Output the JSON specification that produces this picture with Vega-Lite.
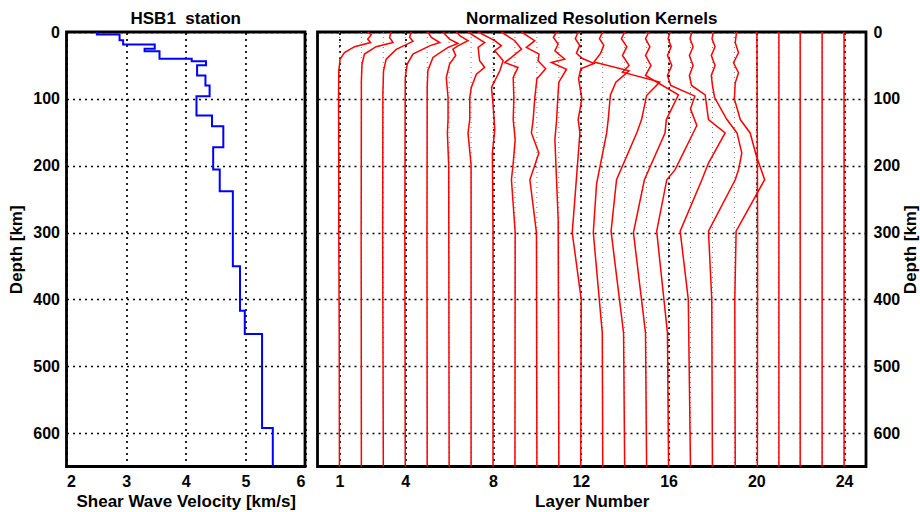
{
  "$schema": "https://vega.github.io/schema/vega-lite/v6.json",
  "padding": {"left": 5.5, "top": 8, "right": 0, "bottom": 0},
  "background": "white",
  "spacing": 9,
  "config": {
    "font": "Liberation Sans",
    "view": {"stroke": "black", "strokeWidth": 2.8},
    "title": {"font": "Liberation Sans", "fontSize": 17, "fontWeight": "bold", "color": "black", "offset": -3.5},
    "axis": {
      "labelFont": "Liberation Sans", "labelFontSize": 16, "labelFontWeight": "bold", "labelColor": "black",
      "titleFont": "Liberation Sans", "titleFontSize": 17, "titleFontWeight": "bold", "titleColor": "black",
      "domain": false, "ticks": false, "labelPadding": 7,
      "grid": true, "gridColor": "black", "gridDash": [2, 4], "gridWidth": 1.7, "gridOpacity": 1
    }
  },
  "datasets": {
    "vel": [
      {"v": 2.51, "depth": 0}, {"v": 2.89, "depth": 3.7}, {"v": 2.95, "depth": 12.3}, {"v": 3.48, "depth": 18.7},
      {"v": 3.31, "depth": 25.1}, {"v": 3.56, "depth": 28.7}, {"v": 4.10, "depth": 40.1}, {"v": 4.34, "depth": 43.7},
      {"v": 4.19, "depth": 49.7}, {"v": 4.33, "depth": 65.1}, {"v": 4.40, "depth": 80.1}, {"v": 4.18, "depth": 96.1},
      {"v": 4.44, "depth": 125}, {"v": 4.63, "depth": 141}, {"v": 4.46, "depth": 172.5}, {"v": 4.57, "depth": 205.8},
      {"v": 4.79, "depth": 238.3}, {"v": 4.91, "depth": 350.6}, {"v": 4.99, "depth": 417}, {"v": 5.28, "depth": 451.8},
      {"v": 5.46, "depth": 592.5}, {"v": 5.46, "depth": 650}
    ],
    "layers": [
      {"L": 1}, {"L": 2}, {"L": 3}, {"L": 4}, {"L": 5}, {"L": 6}, {"L": 7}, {"L": 8}, {"L": 9}, {"L": 10}, {"L": 11}, {"L": 12},
      {"L": 13}, {"L": 14}, {"L": 15}, {"L": 16}, {"L": 17}, {"L": 18}, {"L": 19}, {"L": 20}, {"L": 21}, {"L": 22}, {"L": 23}, {"L": 24}
    ],
    "kern": [
      {"k": 1, "d": 0, "L": 2.29}, {"k": 1, "d": 4, "L": 2.45}, {"k": 1, "d": 10.7, "L": 2.29}, {"k": 1, "d": 15.7, "L": 2.42}, {"k": 1, "d": 22, "L": 1.69}, {"k": 1, "d": 30.7, "L": 1.23}, {"k": 1, "d": 40.7, "L": 1.03}, {"k": 1, "d": 58, "L": 0.97}, {"k": 1, "d": 100, "L": 0.96}, {"k": 1, "d": 200, "L": 0.97}, {"k": 1, "d": 300, "L": 0.97}, {"k": 1, "d": 450, "L": 0.99}, {"k": 1, "d": 650, "L": 1.0},
      {"k": 2, "d": 0, "L": 3.36}, {"k": 2, "d": 8, "L": 3.28}, {"k": 2, "d": 15.7, "L": 3.44}, {"k": 2, "d": 22, "L": 2.67}, {"k": 2, "d": 33, "L": 2.14}, {"k": 2, "d": 48, "L": 2.03}, {"k": 2, "d": 73, "L": 2.0}, {"k": 2, "d": 300, "L": 1.99}, {"k": 2, "d": 650, "L": 2.0},
      {"k": 3, "d": 0, "L": 4.27}, {"k": 3, "d": 8, "L": 4.2}, {"k": 3, "d": 14, "L": 4.35}, {"k": 3, "d": 26, "L": 3.59}, {"k": 3, "d": 40.7, "L": 3.13}, {"k": 3, "d": 58, "L": 3.01}, {"k": 3, "d": 93, "L": 2.98}, {"k": 3, "d": 300, "L": 2.97}, {"k": 3, "d": 650, "L": 3.0},
      {"k": 4, "d": 0, "L": 5.03}, {"k": 4, "d": 8, "L": 5.19}, {"k": 4, "d": 15.7, "L": 5.57}, {"k": 4, "d": 20.7, "L": 5.11}, {"k": 4, "d": 33, "L": 4.35}, {"k": 4, "d": 48, "L": 4.09}, {"k": 4, "d": 68, "L": 4.0}, {"k": 4, "d": 300, "L": 3.98}, {"k": 4, "d": 650, "L": 4.0},
      {"k": 5, "d": 0, "L": 5.72}, {"k": 5, "d": 10.7, "L": 6.02}, {"k": 5, "d": 17.2, "L": 6.4}, {"k": 5, "d": 23, "L": 5.95}, {"k": 5, "d": 38, "L": 5.26}, {"k": 5, "d": 58, "L": 5.03}, {"k": 5, "d": 83, "L": 5.0}, {"k": 5, "d": 300, "L": 4.99}, {"k": 5, "d": 650, "L": 5.0},
      {"k": 6, "d": 0, "L": 6.33}, {"k": 6, "d": 6, "L": 6.5}, {"k": 6, "d": 13, "L": 6.86}, {"k": 6, "d": 20.7, "L": 6.4}, {"k": 6, "d": 25.7, "L": 6.17}, {"k": 6, "d": 35, "L": 6.3}, {"k": 6, "d": 48, "L": 6.02}, {"k": 6, "d": 68, "L": 5.87}, {"k": 6, "d": 98, "L": 5.95}, {"k": 6, "d": 131, "L": 5.95}, {"k": 6, "d": 151, "L": 5.92}, {"k": 6, "d": 200, "L": 5.98}, {"k": 6, "d": 650, "L": 6.0},
      {"k": 7, "d": 0, "L": 6.86}, {"k": 7, "d": 8, "L": 7.24}, {"k": 7, "d": 15.7, "L": 7.62}, {"k": 7, "d": 23, "L": 7.32}, {"k": 7, "d": 43, "L": 7.39}, {"k": 7, "d": 53, "L": 7.62}, {"k": 7, "d": 63, "L": 7.24}, {"k": 7, "d": 83, "L": 7.01}, {"k": 7, "d": 98, "L": 6.94}, {"k": 7, "d": 131, "L": 6.94}, {"k": 7, "d": 151, "L": 6.86}, {"k": 7, "d": 199, "L": 7.0}, {"k": 7, "d": 650, "L": 7.0},
      {"k": 8, "d": 0, "L": 7.32}, {"k": 8, "d": 13, "L": 8.08}, {"k": 8, "d": 20.7, "L": 8.38}, {"k": 8, "d": 28, "L": 8.08}, {"k": 8, "d": 43, "L": 8.46}, {"k": 8, "d": 58, "L": 8.31}, {"k": 8, "d": 83, "L": 7.93}, {"k": 8, "d": 108, "L": 8.0}, {"k": 8, "d": 146, "L": 8.08}, {"k": 8, "d": 181, "L": 7.97}, {"k": 8, "d": 300, "L": 8.0}, {"k": 8, "d": 650, "L": 8.0},
      {"k": 9, "d": 0, "L": 8.38}, {"k": 9, "d": 13, "L": 8.99}, {"k": 9, "d": 25.7, "L": 9.3}, {"k": 9, "d": 38, "L": 8.84}, {"k": 9, "d": 45.7, "L": 8.53}, {"k": 9, "d": 53, "L": 9.14}, {"k": 9, "d": 68, "L": 8.92}, {"k": 9, "d": 100, "L": 8.95}, {"k": 9, "d": 131, "L": 8.92}, {"k": 9, "d": 161, "L": 9.01}, {"k": 9, "d": 196, "L": 8.92}, {"k": 9, "d": 221, "L": 8.84}, {"k": 9, "d": 300, "L": 9.01}, {"k": 9, "d": 650, "L": 9.0},
      {"k": 10, "d": 0, "L": 9.3}, {"k": 10, "d": 13, "L": 9.9}, {"k": 10, "d": 23, "L": 9.52}, {"k": 10, "d": 33, "L": 10.1}, {"k": 10, "d": 43, "L": 10.05}, {"k": 10, "d": 55, "L": 10.4}, {"k": 10, "d": 70, "L": 10.0}, {"k": 10, "d": 100, "L": 9.9}, {"k": 10, "d": 131, "L": 9.83}, {"k": 10, "d": 151, "L": 9.75}, {"k": 10, "d": 181, "L": 10.09}, {"k": 10, "d": 221, "L": 9.68}, {"k": 10, "d": 300, "L": 9.98}, {"k": 10, "d": 650, "L": 10.0},
      {"k": 11, "d": 0, "L": 10.9}, {"k": 11, "d": 8, "L": 10.75}, {"k": 11, "d": 18, "L": 10.97}, {"k": 11, "d": 28, "L": 10.82}, {"k": 11, "d": 40.7, "L": 11.27}, {"k": 11, "d": 45.7, "L": 10.66}, {"k": 11, "d": 55.7, "L": 11.35}, {"k": 11, "d": 75, "L": 11.0}, {"k": 11, "d": 100, "L": 10.95}, {"k": 11, "d": 131, "L": 10.9}, {"k": 11, "d": 161, "L": 10.82}, {"k": 11, "d": 281, "L": 10.97}, {"k": 11, "d": 650, "L": 11.0},
      {"k": 12, "d": 0, "L": 11.88}, {"k": 12, "d": 10, "L": 11.75}, {"k": 12, "d": 20, "L": 11.95}, {"k": 12, "d": 32, "L": 11.8}, {"k": 12, "d": 40, "L": 12.1}, {"k": 12, "d": 47, "L": 12.6}, {"k": 12, "d": 55, "L": 12.0}, {"k": 12, "d": 70, "L": 11.9}, {"k": 12, "d": 100, "L": 12.05}, {"k": 12, "d": 131, "L": 11.88}, {"k": 12, "d": 151, "L": 11.96}, {"k": 12, "d": 250, "L": 11.73}, {"k": 12, "d": 300, "L": 11.61}, {"k": 12, "d": 400, "L": 12.02}, {"k": 12, "d": 650, "L": 12.0},
      {"k": 13, "d": 0, "L": 13.0}, {"k": 13, "d": 10, "L": 12.85}, {"k": 13, "d": 20, "L": 13.05}, {"k": 13, "d": 32, "L": 12.9}, {"k": 13, "d": 45, "L": 12.6}, {"k": 13, "d": 58, "L": 14.2}, {"k": 13, "d": 75, "L": 13.6}, {"k": 13, "d": 94, "L": 13.35}, {"k": 13, "d": 131, "L": 13.25}, {"k": 13, "d": 151, "L": 13.18}, {"k": 13, "d": 227, "L": 12.72}, {"k": 13, "d": 300, "L": 12.57}, {"k": 13, "d": 450, "L": 12.98}, {"k": 13, "d": 650, "L": 13.0},
      {"k": 14, "d": 0, "L": 14.0}, {"k": 14, "d": 10, "L": 13.85}, {"k": 14, "d": 22, "L": 14.1}, {"k": 14, "d": 35, "L": 13.9}, {"k": 14, "d": 50, "L": 14.2}, {"k": 14, "d": 60, "L": 13.9}, {"k": 14, "d": 75, "L": 15.6}, {"k": 14, "d": 95, "L": 15.0}, {"k": 14, "d": 131, "L": 14.77}, {"k": 14, "d": 151, "L": 14.55}, {"k": 14, "d": 221, "L": 13.63}, {"k": 14, "d": 298, "L": 13.38}, {"k": 14, "d": 450, "L": 13.95}, {"k": 14, "d": 650, "L": 14.0},
      {"k": 15, "d": 0, "L": 15.1}, {"k": 15, "d": 10, "L": 14.95}, {"k": 15, "d": 22, "L": 15.15}, {"k": 15, "d": 35, "L": 14.95}, {"k": 15, "d": 50, "L": 15.2}, {"k": 15, "d": 65, "L": 14.95}, {"k": 15, "d": 94, "L": 16.45}, {"k": 15, "d": 131, "L": 15.9}, {"k": 15, "d": 151, "L": 15.84}, {"k": 15, "d": 221, "L": 14.9}, {"k": 15, "d": 300, "L": 14.4}, {"k": 15, "d": 450, "L": 14.95}, {"k": 15, "d": 650, "L": 15.0},
      {"k": 16, "d": 0, "L": 16.07}, {"k": 16, "d": 10, "L": 15.98}, {"k": 16, "d": 22, "L": 16.12}, {"k": 16, "d": 35, "L": 15.95}, {"k": 16, "d": 50, "L": 16.15}, {"k": 16, "d": 65, "L": 15.95}, {"k": 16, "d": 80, "L": 16.1}, {"k": 16, "d": 96, "L": 17.2}, {"k": 16, "d": 115, "L": 17.0}, {"k": 16, "d": 140, "L": 17.29}, {"k": 16, "d": 206, "L": 16.3}, {"k": 16, "d": 221, "L": 15.92}, {"k": 16, "d": 298, "L": 15.46}, {"k": 16, "d": 450, "L": 15.95}, {"k": 16, "d": 650, "L": 16.0},
      {"k": 17, "d": 0, "L": 17.06}, {"k": 17, "d": 10, "L": 16.98}, {"k": 17, "d": 22, "L": 17.12}, {"k": 17, "d": 35, "L": 16.95}, {"k": 17, "d": 50, "L": 17.12}, {"k": 17, "d": 65, "L": 16.95}, {"k": 17, "d": 80, "L": 17.05}, {"k": 17, "d": 94, "L": 17.67}, {"k": 17, "d": 131, "L": 17.82}, {"k": 17, "d": 151, "L": 18.58}, {"k": 17, "d": 196, "L": 17.82}, {"k": 17, "d": 221, "L": 17.52}, {"k": 17, "d": 298, "L": 16.53}, {"k": 17, "d": 400, "L": 16.9}, {"k": 17, "d": 650, "L": 17.0},
      {"k": 18, "d": 0, "L": 18.05}, {"k": 18, "d": 10, "L": 17.98}, {"k": 18, "d": 22, "L": 18.12}, {"k": 18, "d": 35, "L": 17.95}, {"k": 18, "d": 50, "L": 18.12}, {"k": 18, "d": 65, "L": 17.95}, {"k": 18, "d": 80, "L": 18.0}, {"k": 18, "d": 98, "L": 18.1}, {"k": 18, "d": 131, "L": 18.66}, {"k": 18, "d": 151, "L": 19.12}, {"k": 18, "d": 181, "L": 19.34}, {"k": 18, "d": 206, "L": 19.19}, {"k": 18, "d": 221, "L": 19.04}, {"k": 18, "d": 298, "L": 17.82}, {"k": 18, "d": 400, "L": 17.97}, {"k": 18, "d": 650, "L": 18.0},
      {"k": 19, "d": 0, "L": 19.1}, {"k": 19, "d": 16, "L": 19.04}, {"k": 19, "d": 31, "L": 19.19}, {"k": 19, "d": 46, "L": 18.96}, {"k": 19, "d": 61, "L": 19.19}, {"k": 19, "d": 76, "L": 19.04}, {"k": 19, "d": 100, "L": 19.0}, {"k": 19, "d": 131, "L": 19.27}, {"k": 19, "d": 151, "L": 19.72}, {"k": 19, "d": 185, "L": 20.0}, {"k": 19, "d": 221, "L": 20.38}, {"k": 19, "d": 298, "L": 19.08}, {"k": 19, "d": 400, "L": 19.02}, {"k": 19, "d": 650, "L": 19.04},
      {"k": 20, "d": 0, "L": 20.03}, {"k": 20, "d": 100, "L": 20.04}, {"k": 20, "d": 300, "L": 20.06}, {"k": 20, "d": 650, "L": 20.05},
      {"k": 21, "d": 0, "L": 21.03}, {"k": 21, "d": 650, "L": 21.03},
      {"k": 22, "d": 0, "L": 22.0}, {"k": 22, "d": 650, "L": 22.0},
      {"k": 23, "d": 0, "L": 23.0}, {"k": 23, "d": 650, "L": 23.0},
      {"k": 24, "d": 0, "L": 24.0}, {"k": 24, "d": 650, "L": 24.0}
    ]
  },
  "hconcat": [
    {
      "width": 238.5, "height": 434.5,
      "title": {"text": "HSB1\u00a0 station"},
      "data": {"name": "vel"},
      "mark": {"type": "line", "interpolate": "step-before", "color": "#0000ff", "strokeWidth": 2},
      "encoding": {
        "x": {"field": "v", "type": "quantitative", "scale": {"domain": [2, 6], "nice": false, "zero": false},
              "axis": {"values": [2, 3, 4, 5, 6], "title": "Shear Wave Velocity [km/s]", "titlePadding": 4}},
        "y": {"field": "depth", "type": "quantitative", "scale": {"domain": [0, 650], "reverse": true, "nice": false, "zero": false},
              "axis": {"values": [0, 100, 200, 300, 400, 500, 600], "title": "Depth [km]", "titlePadding": 7}},
        "order": {"field": "depth", "type": "quantitative"}
      }
    },
    {
      "width": 548.5, "height": 434.5,
      "title": {"text": "Normalized Resolution Kernels"},
      "layer": [
        {
          "data": {"name": "layers"},
          "mark": {"type": "rule", "color": "#777777", "strokeDash": [1, 4], "strokeWidth": 1},
          "encoding": {"x": {"field": "L", "type": "quantitative"}}
        },
        {
          "data": {"name": "kern"},
          "mark": {"type": "line", "color": "#ff0000", "strokeWidth": 1.5},
          "encoding": {
            "x": {"field": "L", "type": "quantitative", "scale": {"domain": [0, 25], "nice": false, "zero": false},
                  "axis": {"values": [1, 4, 8, 12, 16, 20, 24], "title": "Layer Number", "titlePadding": 4}},
            "y": {"field": "d", "type": "quantitative", "scale": {"domain": [0, 650], "reverse": true, "nice": false, "zero": false},
                  "axis": {"orient": "right", "values": [0, 100, 200, 300, 400, 500, 600], "title": "Depth [km]", "titleAngle": -90, "titlePadding": 20}},
            "detail": {"field": "k", "type": "nominal"},
            "order": {"field": "d", "type": "quantitative"}
          }
        }
      ]
    }
  ]
}
